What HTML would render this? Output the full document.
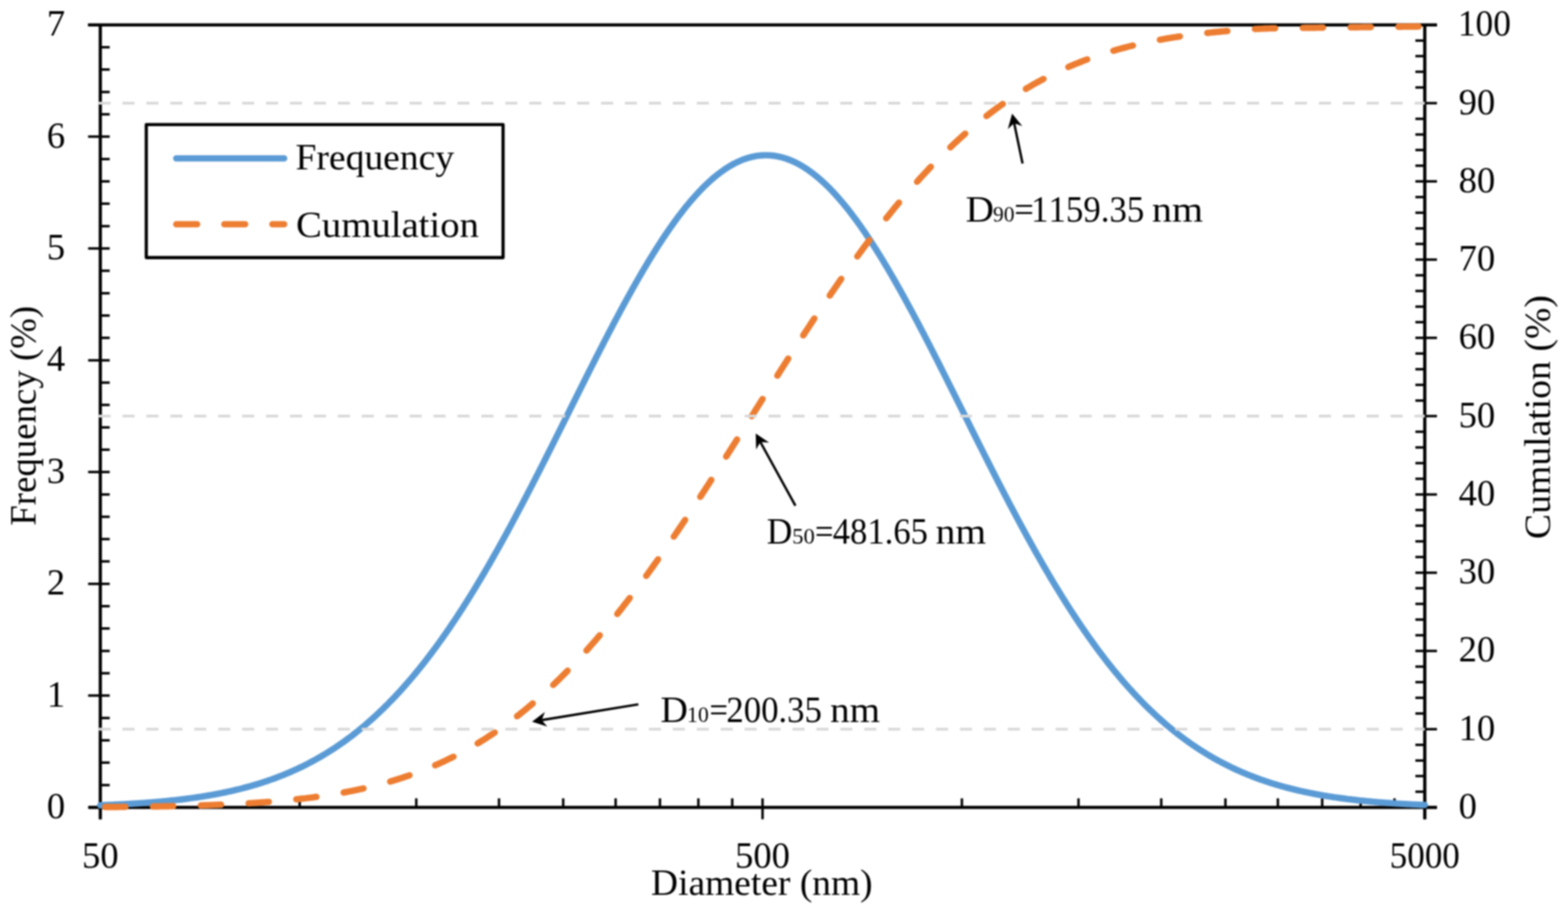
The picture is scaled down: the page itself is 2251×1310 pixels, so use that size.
<!DOCTYPE html>
<html><head><meta charset="utf-8"><title>Particle size distribution</title>
<style>html,body{margin:0;padding:0;background:#fff;} svg{display:block;filter:blur(0.8px);}</style>
</head><body>
<svg width="2251" height="1310" viewBox="0 0 2251 1310">
<rect width="2251" height="1310" fill="#fff"/>
<path d="M144.0,35.7 V1175.5 M2045.4,35.7 V1175.5 M127.0,1158.5 H2062.9 M126.5,35.7 H2062.9" stroke="#000" stroke-width="4.6" fill="none"/>
<path d="M126.5,1158.50 H157.5 M126.5,998.10 H157.5 M126.5,837.70 H157.5 M126.5,677.30 H157.5 M126.5,516.90 H157.5 M126.5,356.50 H157.5 M126.5,196.10 H157.5 M126.5,35.70 H157.5 M144.0,1126.42 H157.5 M144.0,1094.34 H157.5 M144.0,1062.26 H157.5 M144.0,1030.18 H157.5 M144.0,966.02 H157.5 M144.0,933.94 H157.5 M144.0,901.86 H157.5 M144.0,869.78 H157.5 M144.0,805.62 H157.5 M144.0,773.54 H157.5 M144.0,741.46 H157.5 M144.0,709.38 H157.5 M144.0,645.22 H157.5 M144.0,613.14 H157.5 M144.0,581.06 H157.5 M144.0,548.98 H157.5 M144.0,484.82 H157.5 M144.0,452.74 H157.5 M144.0,420.66 H157.5 M144.0,388.58 H157.5 M144.0,324.42 H157.5 M144.0,292.34 H157.5 M144.0,260.26 H157.5 M144.0,228.18 H157.5 M144.0,164.02 H157.5 M144.0,131.94 H157.5 M144.0,99.86 H157.5 M144.0,67.78 H157.5 M2031.9,1158.50 H2062.9 M2031.9,1046.22 H2062.9 M2031.9,933.94 H2062.9 M2031.9,821.66 H2062.9 M2031.9,709.38 H2062.9 M2031.9,597.10 H2062.9 M2031.9,484.82 H2062.9 M2031.9,372.54 H2062.9 M2031.9,260.26 H2062.9 M2031.9,147.98 H2062.9 M2031.9,35.70 H2062.9 M2031.9,1136.04 H2045.4 M2031.9,1113.59 H2045.4 M2031.9,1091.13 H2045.4 M2031.9,1068.68 H2045.4 M2031.9,1023.76 H2045.4 M2031.9,1001.31 H2045.4 M2031.9,978.85 H2045.4 M2031.9,956.40 H2045.4 M2031.9,911.48 H2045.4 M2031.9,889.03 H2045.4 M2031.9,866.57 H2045.4 M2031.9,844.12 H2045.4 M2031.9,799.20 H2045.4 M2031.9,776.75 H2045.4 M2031.9,754.29 H2045.4 M2031.9,731.84 H2045.4 M2031.9,686.92 H2045.4 M2031.9,664.47 H2045.4 M2031.9,642.01 H2045.4 M2031.9,619.56 H2045.4 M2031.9,574.64 H2045.4 M2031.9,552.19 H2045.4 M2031.9,529.73 H2045.4 M2031.9,507.28 H2045.4 M2031.9,462.36 H2045.4 M2031.9,439.91 H2045.4 M2031.9,417.45 H2045.4 M2031.9,395.00 H2045.4 M2031.9,350.08 H2045.4 M2031.9,327.63 H2045.4 M2031.9,305.17 H2045.4 M2031.9,282.72 H2045.4 M2031.9,237.80 H2045.4 M2031.9,215.35 H2045.4 M2031.9,192.89 H2045.4 M2031.9,170.44 H2045.4 M2031.9,125.52 H2045.4 M2031.9,103.07 H2045.4 M2031.9,80.61 H2045.4 M2031.9,58.16 H2045.4 M144.00,1145.5 V1175.5 M1094.70,1145.5 V1175.5 M2045.40,1145.5 V1175.5 M430.19,1145.5 V1158.5 M597.60,1145.5 V1158.5 M716.38,1145.5 V1158.5 M808.51,1145.5 V1158.5 M883.79,1145.5 V1158.5 M947.43,1145.5 V1158.5 M1002.57,1145.5 V1158.5 M1051.20,1145.5 V1158.5 M1380.89,1145.5 V1158.5 M1548.30,1145.5 V1158.5 M1667.08,1145.5 V1158.5 M1759.21,1145.5 V1158.5 M1834.49,1145.5 V1158.5 M1898.13,1145.5 V1158.5 M1953.27,1145.5 V1158.5 M2001.90,1145.5 V1158.5" stroke="#000" stroke-width="3.5" fill="none"/>
<path d="M144.0,1155.39 L146.0,1155.32 L148.0,1155.24 L150.0,1155.16 L152.0,1155.08 L154.0,1155.00 L156.0,1154.91 L158.0,1154.83 L160.0,1154.74 L162.0,1154.65 L164.0,1154.56 L166.0,1154.47 L168.0,1154.37 L170.0,1154.28 L172.0,1154.18 L174.0,1154.08 L176.0,1153.97 L178.0,1153.87 L180.0,1153.76 L182.0,1153.65 L184.0,1153.54 L186.0,1153.42 L188.0,1153.30 L190.0,1153.18 L192.0,1153.06 L194.0,1152.94 L196.0,1152.81 L198.0,1152.68 L200.0,1152.55 L202.0,1152.41 L204.0,1152.28 L206.0,1152.13 L208.0,1151.99 L210.0,1151.84 L212.0,1151.69 L214.0,1151.54 L216.0,1151.39 L218.0,1151.23 L220.0,1151.07 L222.0,1150.90 L224.0,1150.73 L226.0,1150.56 L228.0,1150.39 L230.0,1150.21 L232.0,1150.03 L234.0,1149.84 L236.0,1149.65 L238.0,1149.46 L240.0,1149.26 L242.0,1149.06 L244.0,1148.86 L246.0,1148.65 L248.0,1148.44 L250.0,1148.22 L252.0,1148.00 L254.0,1147.77 L256.0,1147.55 L258.0,1147.31 L260.0,1147.08 L262.0,1146.83 L264.0,1146.59 L266.0,1146.34 L268.0,1146.08 L270.0,1145.82 L272.0,1145.55 L274.0,1145.28 L276.0,1145.01 L278.0,1144.73 L280.0,1144.44 L282.0,1144.15 L284.0,1143.86 L286.0,1143.55 L288.0,1143.25 L290.0,1142.94 L292.0,1142.62 L294.0,1142.29 L296.0,1141.96 L298.0,1141.63 L300.0,1141.29 L302.0,1140.94 L304.0,1140.59 L306.0,1140.23 L308.0,1139.86 L310.0,1139.49 L312.0,1139.11 L314.0,1138.73 L316.0,1138.34 L318.0,1137.94 L320.0,1137.53 L322.0,1137.12 L324.0,1136.70 L326.0,1136.28 L328.0,1135.84 L330.0,1135.40 L332.0,1134.95 L334.0,1134.50 L336.0,1134.03 L338.0,1133.56 L340.0,1133.08 L342.0,1132.60 L344.0,1132.10 L346.0,1131.60 L348.0,1131.09 L350.0,1130.57 L352.0,1130.04 L354.0,1129.51 L356.0,1128.96 L358.0,1128.41 L360.0,1127.85 L362.0,1127.28 L364.0,1126.69 L366.0,1126.11 L368.0,1125.51 L370.0,1124.90 L372.0,1124.28 L374.0,1123.65 L376.0,1123.02 L378.0,1122.37 L380.0,1121.71 L382.0,1121.05 L384.0,1120.37 L386.0,1119.68 L388.0,1118.98 L390.0,1118.28 L392.0,1117.56 L394.0,1116.83 L396.0,1116.09 L398.0,1115.34 L400.0,1114.57 L402.0,1113.80 L404.0,1113.01 L406.0,1112.22 L408.0,1111.41 L410.0,1110.59 L412.0,1109.76 L414.0,1108.91 L416.0,1108.06 L418.0,1107.19 L420.0,1106.31 L422.0,1105.42 L424.0,1104.51 L426.0,1103.59 L428.0,1102.66 L430.0,1101.72 L432.0,1100.76 L434.0,1099.79 L436.0,1098.81 L438.0,1097.81 L440.0,1096.80 L442.0,1095.77 L444.0,1094.74 L446.0,1093.68 L448.0,1092.62 L450.0,1091.54 L452.0,1090.44 L454.0,1089.33 L456.0,1088.21 L458.0,1087.07 L460.0,1085.92 L462.0,1084.75 L464.0,1083.57 L466.0,1082.37 L468.0,1081.16 L470.0,1079.93 L472.0,1078.68 L474.0,1077.42 L476.0,1076.15 L478.0,1074.85 L480.0,1073.55 L482.0,1072.22 L484.0,1070.88 L486.0,1069.53 L488.0,1068.15 L490.0,1066.76 L492.0,1065.36 L494.0,1063.93 L496.0,1062.49 L498.0,1061.04 L500.0,1059.56 L502.0,1058.07 L504.0,1056.56 L506.0,1055.04 L508.0,1053.49 L510.0,1051.93 L512.0,1050.35 L514.0,1048.75 L516.0,1047.14 L518.0,1045.50 L520.0,1043.85 L522.0,1042.18 L524.0,1040.49 L526.0,1038.78 L528.0,1037.06 L530.0,1035.31 L532.0,1033.55 L534.0,1031.77 L536.0,1029.97 L538.0,1028.15 L540.0,1026.31 L542.0,1024.45 L544.0,1022.57 L546.0,1020.67 L548.0,1018.75 L550.0,1016.82 L552.0,1014.86 L554.0,1012.88 L556.0,1010.89 L558.0,1008.87 L560.0,1006.84 L562.0,1004.78 L564.0,1002.70 L566.0,1000.61 L568.0,998.49 L570.0,996.36 L572.0,994.20 L574.0,992.02 L576.0,989.82 L578.0,987.61 L580.0,985.37 L582.0,983.11 L584.0,980.83 L586.0,978.53 L588.0,976.21 L590.0,973.86 L592.0,971.50 L594.0,969.12 L596.0,966.72 L598.0,964.29 L600.0,961.84 L602.0,959.38 L604.0,956.89 L606.0,954.38 L608.0,951.85 L610.0,949.30 L612.0,946.73 L614.0,944.14 L616.0,941.53 L618.0,938.89 L620.0,936.24 L622.0,933.57 L624.0,930.87 L626.0,928.15 L628.0,925.41 L630.0,922.66 L632.0,919.88 L634.0,917.08 L636.0,914.26 L638.0,911.42 L640.0,908.56 L642.0,905.67 L644.0,902.77 L646.0,899.85 L648.0,896.90 L650.0,893.94 L652.0,890.96 L654.0,887.95 L656.0,884.93 L658.0,881.89 L660.0,878.82 L662.0,875.74 L664.0,872.64 L666.0,869.51 L668.0,866.37 L670.0,863.21 L672.0,860.03 L674.0,856.83 L676.0,853.61 L678.0,850.37 L680.0,847.12 L682.0,843.84 L684.0,840.55 L686.0,837.23 L688.0,833.90 L690.0,830.55 L692.0,827.19 L694.0,823.80 L696.0,820.40 L698.0,816.98 L700.0,813.54 L702.0,810.09 L704.0,806.62 L706.0,803.13 L708.0,799.62 L710.0,796.10 L712.0,792.56 L714.0,789.01 L716.0,785.44 L718.0,781.85 L720.0,778.25 L722.0,774.64 L724.0,771.01 L726.0,767.36 L728.0,763.70 L730.0,760.03 L732.0,756.34 L734.0,752.63 L736.0,748.92 L738.0,745.19 L740.0,741.45 L742.0,737.69 L744.0,733.92 L746.0,730.14 L748.0,726.35 L750.0,722.55 L752.0,718.73 L754.0,714.90 L756.0,711.07 L758.0,707.22 L760.0,703.36 L762.0,699.49 L764.0,695.61 L766.0,691.72 L768.0,687.82 L770.0,683.92 L772.0,680.00 L774.0,676.08 L776.0,672.15 L778.0,668.21 L780.0,664.27 L782.0,660.32 L784.0,656.36 L786.0,652.39 L788.0,648.42 L790.0,644.45 L792.0,640.46 L794.0,636.48 L796.0,632.49 L798.0,628.49 L800.0,624.50 L802.0,620.50 L804.0,616.49 L806.0,612.49 L808.0,608.48 L810.0,604.47 L812.0,600.46 L814.0,596.44 L816.0,592.43 L818.0,588.42 L820.0,584.40 L822.0,580.39 L824.0,576.38 L826.0,572.37 L828.0,568.36 L830.0,564.36 L832.0,560.35 L834.0,556.35 L836.0,552.36 L838.0,548.37 L840.0,544.38 L842.0,540.39 L844.0,536.42 L846.0,532.44 L848.0,528.48 L850.0,524.52 L852.0,520.57 L854.0,516.62 L856.0,512.69 L858.0,508.76 L860.0,504.84 L862.0,500.93 L864.0,497.03 L866.0,493.14 L868.0,489.26 L870.0,485.39 L872.0,481.53 L874.0,477.68 L876.0,473.85 L878.0,470.03 L880.0,466.22 L882.0,462.43 L884.0,458.65 L886.0,454.88 L888.0,451.13 L890.0,447.40 L892.0,443.68 L894.0,439.98 L896.0,436.30 L898.0,432.63 L900.0,428.98 L902.0,425.35 L904.0,421.74 L906.0,418.15 L908.0,414.57 L910.0,411.02 L912.0,407.49 L914.0,403.97 L916.0,400.48 L918.0,397.02 L920.0,393.57 L922.0,390.15 L924.0,386.75 L926.0,383.37 L928.0,380.02 L930.0,376.69 L932.0,373.39 L934.0,370.12 L936.0,366.86 L938.0,363.64 L940.0,360.44 L942.0,357.27 L944.0,354.13 L946.0,351.01 L948.0,347.93 L950.0,344.87 L952.0,341.84 L954.0,338.84 L956.0,335.88 L958.0,332.94 L960.0,330.03 L962.0,327.16 L964.0,324.31 L966.0,321.50 L968.0,318.72 L970.0,315.98 L972.0,313.26 L974.0,310.58 L976.0,307.94 L978.0,305.33 L980.0,302.75 L982.0,300.21 L984.0,297.70 L986.0,295.23 L988.0,292.80 L990.0,290.40 L992.0,288.04 L994.0,285.72 L996.0,283.44 L998.0,281.19 L1000.0,278.98 L1002.0,276.81 L1004.0,274.68 L1006.0,272.59 L1008.0,270.53 L1010.0,268.52 L1012.0,266.55 L1014.0,264.61 L1016.0,262.72 L1018.0,260.87 L1020.0,259.06 L1022.0,257.29 L1024.0,255.56 L1026.0,253.88 L1028.0,252.23 L1030.0,250.63 L1032.0,249.07 L1034.0,247.56 L1036.0,246.09 L1038.0,244.66 L1040.0,243.27 L1042.0,241.93 L1044.0,240.63 L1046.0,239.38 L1048.0,238.17 L1050.0,237.00 L1052.0,235.88 L1054.0,234.81 L1056.0,233.78 L1058.0,232.79 L1060.0,231.85 L1062.0,230.96 L1064.0,230.11 L1066.0,229.31 L1068.0,228.55 L1070.0,227.84 L1072.0,227.17 L1074.0,226.55 L1076.0,225.98 L1078.0,225.45 L1080.0,224.97 L1082.0,224.54 L1084.0,224.15 L1086.0,223.81 L1088.0,223.51 L1090.0,223.27 L1092.0,223.06 L1094.0,222.91 L1096.0,222.80 L1098.0,222.74 L1100.0,222.73 L1102.0,222.76 L1104.0,222.84 L1106.0,222.97 L1108.0,223.14 L1110.0,223.36 L1112.0,223.63 L1114.0,223.94 L1116.0,224.30 L1118.0,224.70 L1120.0,225.16 L1122.0,225.66 L1124.0,226.20 L1126.0,226.79 L1128.0,227.43 L1130.0,228.12 L1132.0,228.85 L1134.0,229.62 L1136.0,230.44 L1138.0,231.31 L1140.0,232.22 L1142.0,233.18 L1144.0,234.18 L1146.0,235.23 L1148.0,236.33 L1150.0,237.46 L1152.0,238.65 L1154.0,239.87 L1156.0,241.15 L1158.0,242.46 L1160.0,243.82 L1162.0,245.22 L1164.0,246.67 L1166.0,248.16 L1168.0,249.69 L1170.0,251.27 L1172.0,252.89 L1174.0,254.55 L1176.0,256.25 L1178.0,257.99 L1180.0,259.78 L1182.0,261.60 L1184.0,263.47 L1186.0,265.38 L1188.0,267.33 L1190.0,269.32 L1192.0,271.35 L1194.0,273.42 L1196.0,275.53 L1198.0,277.67 L1200.0,279.86 L1202.0,282.08 L1204.0,284.35 L1206.0,286.65 L1208.0,288.98 L1210.0,291.36 L1212.0,293.77 L1214.0,296.22 L1216.0,298.70 L1218.0,301.22 L1220.0,303.78 L1222.0,306.37 L1224.0,308.99 L1226.0,311.65 L1228.0,314.34 L1230.0,317.07 L1232.0,319.83 L1234.0,322.62 L1236.0,325.45 L1238.0,328.30 L1240.0,331.19 L1242.0,334.11 L1244.0,337.06 L1246.0,340.04 L1248.0,343.05 L1250.0,346.09 L1252.0,349.16 L1254.0,352.26 L1256.0,355.38 L1258.0,358.54 L1260.0,361.72 L1262.0,364.93 L1264.0,368.16 L1266.0,371.42 L1268.0,374.71 L1270.0,378.02 L1272.0,381.36 L1274.0,384.72 L1276.0,388.11 L1278.0,391.51 L1280.0,394.95 L1282.0,398.40 L1284.0,401.88 L1286.0,405.38 L1288.0,408.90 L1290.0,412.44 L1292.0,416.00 L1294.0,419.58 L1296.0,423.18 L1298.0,426.80 L1300.0,430.44 L1302.0,434.09 L1304.0,437.77 L1306.0,441.46 L1308.0,445.17 L1310.0,448.89 L1312.0,452.63 L1314.0,456.39 L1316.0,460.16 L1318.0,463.94 L1320.0,467.74 L1322.0,471.56 L1324.0,475.38 L1326.0,479.22 L1328.0,483.07 L1330.0,486.93 L1332.0,490.81 L1334.0,494.69 L1336.0,498.59 L1338.0,502.49 L1340.0,506.40 L1342.0,510.33 L1344.0,514.26 L1346.0,518.20 L1348.0,522.15 L1350.0,526.10 L1352.0,530.06 L1354.0,534.03 L1356.0,538.01 L1358.0,541.99 L1360.0,545.97 L1362.0,549.96 L1364.0,553.96 L1366.0,557.95 L1368.0,561.95 L1370.0,565.96 L1372.0,569.96 L1374.0,573.97 L1376.0,577.98 L1378.0,582.00 L1380.0,586.01 L1382.0,590.02 L1384.0,594.03 L1386.0,598.05 L1388.0,602.06 L1390.0,606.07 L1392.0,610.08 L1394.0,614.09 L1396.0,618.09 L1398.0,622.10 L1400.0,626.10 L1402.0,630.09 L1404.0,634.09 L1406.0,638.07 L1408.0,642.06 L1410.0,646.04 L1412.0,650.01 L1414.0,653.98 L1416.0,657.94 L1418.0,661.90 L1420.0,665.85 L1422.0,669.79 L1424.0,673.72 L1426.0,677.65 L1428.0,681.57 L1430.0,685.48 L1432.0,689.38 L1434.0,693.28 L1436.0,697.16 L1438.0,701.04 L1440.0,704.90 L1442.0,708.76 L1444.0,712.60 L1446.0,716.44 L1448.0,720.26 L1450.0,724.07 L1452.0,727.87 L1454.0,731.66 L1456.0,735.43 L1458.0,739.19 L1460.0,742.95 L1462.0,746.68 L1464.0,750.41 L1466.0,754.12 L1468.0,757.81 L1470.0,761.50 L1472.0,765.17 L1474.0,768.82 L1476.0,772.46 L1478.0,776.09 L1480.0,779.70 L1482.0,783.29 L1484.0,786.87 L1486.0,790.43 L1488.0,793.98 L1490.0,797.51 L1492.0,801.03 L1494.0,804.52 L1496.0,808.01 L1498.0,811.47 L1500.0,814.92 L1502.0,818.35 L1504.0,821.76 L1506.0,825.16 L1508.0,828.54 L1510.0,831.89 L1512.0,835.24 L1514.0,838.56 L1516.0,841.87 L1518.0,845.15 L1520.0,848.42 L1522.0,851.67 L1524.0,854.90 L1526.0,858.11 L1528.0,861.30 L1530.0,864.48 L1532.0,867.63 L1534.0,870.77 L1536.0,873.88 L1538.0,876.98 L1540.0,880.05 L1542.0,883.11 L1544.0,886.14 L1546.0,889.16 L1548.0,892.15 L1550.0,895.13 L1552.0,898.08 L1554.0,901.02 L1556.0,903.93 L1558.0,906.83 L1560.0,909.70 L1562.0,912.56 L1564.0,915.39 L1566.0,918.20 L1568.0,920.99 L1570.0,923.76 L1572.0,926.51 L1574.0,929.24 L1576.0,931.95 L1578.0,934.64 L1580.0,937.30 L1582.0,939.95 L1584.0,942.58 L1586.0,945.18 L1588.0,947.76 L1590.0,950.33 L1592.0,952.87 L1594.0,955.39 L1596.0,957.89 L1598.0,960.37 L1600.0,962.83 L1602.0,965.26 L1604.0,967.68 L1606.0,970.07 L1608.0,972.45 L1610.0,974.80 L1612.0,977.14 L1614.0,979.45 L1616.0,981.74 L1618.0,984.01 L1620.0,986.27 L1622.0,988.50 L1624.0,990.71 L1626.0,992.89 L1628.0,995.06 L1630.0,997.21 L1632.0,999.34 L1634.0,1001.45 L1636.0,1003.54 L1638.0,1005.61 L1640.0,1007.65 L1642.0,1009.68 L1644.0,1011.69 L1646.0,1013.68 L1648.0,1015.65 L1650.0,1017.59 L1652.0,1019.52 L1654.0,1021.43 L1656.0,1023.32 L1658.0,1025.19 L1660.0,1027.04 L1662.0,1028.88 L1664.0,1030.69 L1666.0,1032.48 L1668.0,1034.26 L1670.0,1036.01 L1672.0,1037.75 L1674.0,1039.47 L1676.0,1041.17 L1678.0,1042.85 L1680.0,1044.51 L1682.0,1046.16 L1684.0,1047.78 L1686.0,1049.39 L1688.0,1050.98 L1690.0,1052.56 L1692.0,1054.11 L1694.0,1055.65 L1696.0,1057.17 L1698.0,1058.67 L1700.0,1060.15 L1702.0,1061.62 L1704.0,1063.07 L1706.0,1064.51 L1708.0,1065.92 L1710.0,1067.32 L1712.0,1068.70 L1714.0,1070.07 L1716.0,1071.42 L1718.0,1072.75 L1720.0,1074.07 L1722.0,1075.37 L1724.0,1076.66 L1726.0,1077.93 L1728.0,1079.18 L1730.0,1080.42 L1732.0,1081.64 L1734.0,1082.85 L1736.0,1084.04 L1738.0,1085.22 L1740.0,1086.38 L1742.0,1087.53 L1744.0,1088.66 L1746.0,1089.78 L1748.0,1090.88 L1750.0,1091.97 L1752.0,1093.05 L1754.0,1094.11 L1756.0,1095.15 L1758.0,1096.19 L1760.0,1097.20 L1762.0,1098.21 L1764.0,1099.20 L1766.0,1100.18 L1768.0,1101.14 L1770.0,1102.10 L1772.0,1103.03 L1774.0,1103.96 L1776.0,1104.87 L1778.0,1105.77 L1780.0,1106.66 L1782.0,1107.54 L1784.0,1108.40 L1786.0,1109.25 L1788.0,1110.09 L1790.0,1110.92 L1792.0,1111.73 L1794.0,1112.54 L1796.0,1113.33 L1798.0,1114.11 L1800.0,1114.88 L1802.0,1115.64 L1804.0,1116.38 L1806.0,1117.12 L1808.0,1117.85 L1810.0,1118.56 L1812.0,1119.26 L1814.0,1119.96 L1816.0,1120.64 L1818.0,1121.31 L1820.0,1121.98 L1822.0,1122.63 L1824.0,1123.27 L1826.0,1123.91 L1828.0,1124.53 L1830.0,1125.14 L1832.0,1125.75 L1834.0,1126.34 L1836.0,1126.93 L1838.0,1127.50 L1840.0,1128.07 L1842.0,1128.63 L1844.0,1129.18 L1846.0,1129.72 L1848.0,1130.26 L1850.0,1130.78 L1852.0,1131.30 L1854.0,1131.80 L1856.0,1132.30 L1858.0,1132.79 L1860.0,1133.28 L1862.0,1133.75 L1864.0,1134.22 L1866.0,1134.68 L1868.0,1135.13 L1870.0,1135.58 L1872.0,1136.02 L1874.0,1136.45 L1876.0,1136.87 L1878.0,1137.29 L1880.0,1137.70 L1882.0,1138.10 L1884.0,1138.49 L1886.0,1138.88 L1888.0,1139.26 L1890.0,1139.64 L1892.0,1140.01 L1894.0,1140.37 L1896.0,1140.73 L1898.0,1141.08 L1900.0,1141.43 L1902.0,1141.76 L1904.0,1142.10 L1906.0,1142.42 L1908.0,1142.75 L1910.0,1143.06 L1912.0,1143.37 L1914.0,1143.68 L1916.0,1143.97 L1918.0,1144.27 L1920.0,1144.56 L1922.0,1144.84 L1924.0,1145.12 L1926.0,1145.39 L1928.0,1145.66 L1930.0,1145.92 L1932.0,1146.18 L1934.0,1146.44 L1936.0,1146.69 L1938.0,1146.93 L1940.0,1147.17 L1942.0,1147.41 L1944.0,1147.64 L1946.0,1147.87 L1948.0,1148.09 L1950.0,1148.31 L1952.0,1148.52 L1954.0,1148.73 L1956.0,1148.94 L1958.0,1149.14 L1960.0,1149.34 L1962.0,1149.54 L1964.0,1149.73 L1966.0,1149.91 L1968.0,1150.10 L1970.0,1150.28 L1972.0,1150.46 L1974.0,1150.63 L1976.0,1150.80 L1978.0,1150.97 L1980.0,1151.13 L1982.0,1151.29 L1984.0,1151.45 L1986.0,1151.60 L1988.0,1151.76 L1990.0,1151.90 L1992.0,1152.05 L1994.0,1152.19 L1996.0,1152.33 L1998.0,1152.47 L2000.0,1152.60 L2002.0,1152.73 L2004.0,1152.86 L2006.0,1152.99 L2008.0,1153.11 L2010.0,1153.23 L2012.0,1153.35 L2014.0,1153.47 L2016.0,1153.58 L2018.0,1153.69 L2020.0,1153.80 L2022.0,1153.91 L2024.0,1154.01 L2026.0,1154.12 L2028.0,1154.22 L2030.0,1154.32 L2032.0,1154.41 L2034.0,1154.51 L2036.0,1154.60 L2038.0,1154.69 L2040.0,1154.78 L2042.0,1154.86 L2045.4,1154.95" fill="none" stroke="#5B9BD5" stroke-width="9.2" stroke-linejoin="round" stroke-linecap="round"/>
<path d="M144.0,1157.98 L146.0,1157.96 L148.0,1157.95 L150.0,1157.94 L152.0,1157.92 L154.0,1157.91 L156.0,1157.89 L158.0,1157.88 L160.0,1157.86 L162.0,1157.84 L164.0,1157.83 L166.0,1157.81 L168.0,1157.79 L170.0,1157.78 L172.0,1157.76 L174.0,1157.74 L176.0,1157.72 L178.0,1157.70 L180.0,1157.68 L182.0,1157.66 L184.0,1157.64 L186.0,1157.62 L188.0,1157.60 L190.0,1157.58 L192.0,1157.55 L194.0,1157.53 L196.0,1157.51 L198.0,1157.48 L200.0,1157.46 L202.0,1157.43 L204.0,1157.41 L206.0,1157.38 L208.0,1157.35 L210.0,1157.33 L212.0,1157.30 L214.0,1157.27 L216.0,1157.24 L218.0,1157.21 L220.0,1157.18 L222.0,1157.15 L224.0,1157.11 L226.0,1157.08 L228.0,1157.05 L230.0,1157.01 L232.0,1156.98 L234.0,1156.94 L236.0,1156.91 L238.0,1156.87 L240.0,1156.83 L242.0,1156.79 L244.0,1156.75 L246.0,1156.71 L248.0,1156.67 L250.0,1156.63 L252.0,1156.59 L254.0,1156.54 L256.0,1156.50 L258.0,1156.45 L260.0,1156.40 L262.0,1156.36 L264.0,1156.31 L266.0,1156.26 L268.0,1156.21 L270.0,1156.15 L272.0,1156.10 L274.0,1156.05 L276.0,1155.99 L278.0,1155.94 L280.0,1155.88 L282.0,1155.82 L284.0,1155.76 L286.0,1155.70 L288.0,1155.64 L290.0,1155.57 L292.0,1155.51 L294.0,1155.44 L296.0,1155.38 L298.0,1155.31 L300.0,1155.24 L302.0,1155.17 L304.0,1155.09 L306.0,1155.02 L308.0,1154.94 L310.0,1154.87 L312.0,1154.79 L314.0,1154.71 L316.0,1154.63 L318.0,1154.54 L320.0,1154.46 L322.0,1154.37 L324.0,1154.28 L326.0,1154.19 L328.0,1154.10 L330.0,1154.01 L332.0,1153.91 L334.0,1153.82 L336.0,1153.72 L338.0,1153.62 L340.0,1153.51 L342.0,1153.41 L344.0,1153.30 L346.0,1153.20 L348.0,1153.09 L350.0,1152.97 L352.0,1152.86 L354.0,1152.74 L356.0,1152.62 L358.0,1152.50 L360.0,1152.38 L362.0,1152.25 L364.0,1152.13 L366.0,1152.00 L368.0,1151.87 L370.0,1151.73 L372.0,1151.59 L374.0,1151.45 L376.0,1151.31 L378.0,1151.17 L380.0,1151.02 L382.0,1150.87 L384.0,1150.72 L386.0,1150.56 L388.0,1150.41 L390.0,1150.25 L392.0,1150.08 L394.0,1149.92 L396.0,1149.75 L398.0,1149.58 L400.0,1149.40 L402.0,1149.22 L404.0,1149.04 L406.0,1148.86 L408.0,1148.67 L410.0,1148.48 L412.0,1148.29 L414.0,1148.09 L416.0,1147.89 L418.0,1147.69 L420.0,1147.48 L422.0,1147.27 L424.0,1147.06 L426.0,1146.84 L428.0,1146.62 L430.0,1146.40 L432.0,1146.17 L434.0,1145.94 L436.0,1145.70 L438.0,1145.46 L440.0,1145.22 L442.0,1144.97 L444.0,1144.72 L446.0,1144.47 L448.0,1144.21 L450.0,1143.94 L452.0,1143.68 L454.0,1143.40 L456.0,1143.13 L458.0,1142.85 L460.0,1142.56 L462.0,1142.27 L464.0,1141.98 L466.0,1141.68 L468.0,1141.38 L470.0,1141.07 L472.0,1140.76 L474.0,1140.44 L476.0,1140.12 L478.0,1139.79 L480.0,1139.46 L482.0,1139.12 L484.0,1138.78 L486.0,1138.43 L488.0,1138.08 L490.0,1137.72 L492.0,1137.36 L494.0,1136.99 L496.0,1136.62 L498.0,1136.24 L500.0,1135.85 L502.0,1135.46 L504.0,1135.07 L506.0,1134.67 L508.0,1134.26 L510.0,1133.84 L512.0,1133.42 L514.0,1133.00 L516.0,1132.57 L518.0,1132.13 L520.0,1131.69 L522.0,1131.24 L524.0,1130.78 L526.0,1130.32 L528.0,1129.85 L530.0,1129.37 L532.0,1128.89 L534.0,1128.40 L536.0,1127.90 L538.0,1127.40 L540.0,1126.89 L542.0,1126.37 L544.0,1125.85 L546.0,1125.32 L548.0,1124.78 L550.0,1124.24 L552.0,1123.69 L554.0,1123.13 L556.0,1122.56 L558.0,1121.98 L560.0,1121.40 L562.0,1120.81 L564.0,1120.22 L566.0,1119.61 L568.0,1119.00 L570.0,1118.38 L572.0,1117.75 L574.0,1117.11 L576.0,1116.47 L578.0,1115.81 L580.0,1115.15 L582.0,1114.48 L584.0,1113.80 L586.0,1113.12 L588.0,1112.42 L590.0,1111.72 L592.0,1111.01 L594.0,1110.28 L596.0,1109.55 L598.0,1108.82 L600.0,1108.07 L602.0,1107.31 L604.0,1106.55 L606.0,1105.77 L608.0,1104.99 L610.0,1104.19 L612.0,1103.39 L614.0,1102.58 L616.0,1101.75 L618.0,1100.92 L620.0,1100.08 L622.0,1099.23 L624.0,1098.37 L626.0,1097.50 L628.0,1096.62 L630.0,1095.73 L632.0,1094.83 L634.0,1093.92 L636.0,1092.99 L638.0,1092.06 L640.0,1091.12 L642.0,1090.17 L644.0,1089.21 L646.0,1088.23 L648.0,1087.25 L650.0,1086.25 L652.0,1085.25 L654.0,1084.23 L656.0,1083.21 L658.0,1082.17 L660.0,1081.12 L662.0,1080.06 L664.0,1078.99 L666.0,1077.90 L668.0,1076.81 L670.0,1075.71 L672.0,1074.59 L674.0,1073.46 L676.0,1072.32 L678.0,1071.17 L680.0,1070.01 L682.0,1068.83 L684.0,1067.65 L686.0,1066.45 L688.0,1065.24 L690.0,1064.02 L692.0,1062.78 L694.0,1061.54 L696.0,1060.28 L698.0,1059.01 L700.0,1057.73 L702.0,1056.44 L704.0,1055.13 L706.0,1053.81 L708.0,1052.48 L710.0,1051.13 L712.0,1049.78 L714.0,1048.41 L716.0,1047.03 L718.0,1045.63 L720.0,1044.23 L722.0,1042.81 L724.0,1041.38 L726.0,1039.93 L728.0,1038.47 L730.0,1037.00 L732.0,1035.52 L734.0,1034.02 L736.0,1032.51 L738.0,1030.99 L740.0,1029.45 L742.0,1027.91 L744.0,1026.34 L746.0,1024.77 L748.0,1023.18 L750.0,1021.58 L752.0,1019.96 L754.0,1018.34 L756.0,1016.69 L758.0,1015.04 L760.0,1013.37 L762.0,1011.69 L764.0,1009.99 L766.0,1008.29 L768.0,1006.56 L770.0,1004.83 L772.0,1003.08 L774.0,1001.32 L776.0,999.54 L778.0,997.75 L780.0,995.95 L782.0,994.13 L784.0,992.30 L786.0,990.46 L788.0,988.60 L790.0,986.73 L792.0,984.84 L794.0,982.95 L796.0,981.03 L798.0,979.11 L800.0,977.17 L802.0,975.22 L804.0,973.25 L806.0,971.27 L808.0,969.28 L810.0,967.27 L812.0,965.25 L814.0,963.22 L816.0,961.17 L818.0,959.11 L820.0,957.03 L822.0,954.94 L824.0,952.84 L826.0,950.72 L828.0,948.60 L830.0,946.45 L832.0,944.30 L834.0,942.13 L836.0,939.95 L838.0,937.75 L840.0,935.54 L842.0,933.32 L844.0,931.08 L846.0,928.83 L848.0,926.57 L850.0,924.30 L852.0,922.01 L854.0,919.71 L856.0,917.39 L858.0,915.06 L860.0,912.72 L862.0,910.37 L864.0,908.00 L866.0,905.63 L868.0,903.23 L870.0,900.83 L872.0,898.41 L874.0,895.98 L876.0,893.54 L878.0,891.09 L880.0,888.62 L882.0,886.14 L884.0,883.65 L886.0,881.14 L888.0,878.63 L890.0,876.10 L892.0,873.56 L894.0,871.01 L896.0,868.44 L898.0,865.87 L900.0,863.28 L902.0,860.68 L904.0,858.07 L906.0,855.45 L908.0,852.82 L910.0,850.17 L912.0,847.52 L914.0,844.85 L916.0,842.17 L918.0,839.48 L920.0,836.78 L922.0,834.07 L924.0,831.35 L926.0,828.62 L928.0,825.87 L930.0,823.12 L932.0,820.36 L934.0,817.58 L936.0,814.80 L938.0,812.00 L940.0,809.20 L942.0,806.39 L944.0,803.56 L946.0,800.73 L948.0,797.89 L950.0,795.04 L952.0,792.18 L954.0,789.31 L956.0,786.43 L958.0,783.54 L960.0,780.64 L962.0,777.74 L964.0,774.82 L966.0,771.90 L968.0,768.97 L970.0,766.03 L972.0,763.08 L974.0,760.13 L976.0,757.17 L978.0,754.20 L980.0,751.22 L982.0,748.23 L984.0,745.24 L986.0,742.24 L988.0,739.23 L990.0,736.22 L992.0,733.20 L994.0,730.17 L996.0,727.14 L998.0,724.10 L1000.0,721.05 L1002.0,718.00 L1004.0,714.94 L1006.0,711.88 L1008.0,708.81 L1010.0,705.74 L1012.0,702.66 L1014.0,699.57 L1016.0,696.48 L1018.0,693.39 L1020.0,690.29 L1022.0,687.18 L1024.0,684.07 L1026.0,680.96 L1028.0,677.84 L1030.0,674.72 L1032.0,671.59 L1034.0,668.46 L1036.0,665.33 L1038.0,662.20 L1040.0,659.06 L1042.0,655.91 L1044.0,652.77 L1046.0,649.62 L1048.0,646.47 L1050.0,643.32 L1052.0,640.16 L1054.0,637.00 L1056.0,633.84 L1058.0,630.68 L1060.0,627.52 L1062.0,624.36 L1064.0,621.19 L1066.0,618.02 L1068.0,614.85 L1070.0,611.68 L1072.0,608.52 L1074.0,605.34 L1076.0,602.17 L1078.0,599.00 L1080.0,595.83 L1082.0,592.66 L1084.0,589.49 L1086.0,586.32 L1088.0,583.15 L1090.0,579.98 L1092.0,576.81 L1094.0,573.64 L1096.0,570.48 L1098.0,567.31 L1100.0,564.15 L1102.0,560.99 L1104.0,557.83 L1106.0,554.67 L1108.0,551.51 L1110.0,548.36 L1112.0,545.21 L1114.0,542.06 L1116.0,538.91 L1118.0,535.77 L1120.0,532.63 L1122.0,529.49 L1124.0,526.36 L1126.0,523.23 L1128.0,520.11 L1130.0,516.98 L1132.0,513.87 L1134.0,510.75 L1136.0,507.64 L1138.0,504.54 L1140.0,501.43 L1142.0,498.34 L1144.0,495.25 L1146.0,492.16 L1148.0,489.08 L1150.0,486.00 L1152.0,482.93 L1154.0,479.87 L1156.0,476.81 L1158.0,473.76 L1160.0,470.71 L1162.0,467.67 L1164.0,464.63 L1166.0,461.61 L1168.0,458.58 L1170.0,455.57 L1172.0,452.56 L1174.0,449.56 L1176.0,446.57 L1178.0,443.58 L1180.0,440.60 L1182.0,437.63 L1184.0,434.66 L1186.0,431.71 L1188.0,428.76 L1190.0,425.82 L1192.0,422.89 L1194.0,419.96 L1196.0,417.05 L1198.0,414.14 L1200.0,411.24 L1202.0,408.35 L1204.0,405.47 L1206.0,402.60 L1208.0,399.73 L1210.0,396.88 L1212.0,394.04 L1214.0,391.20 L1216.0,388.38 L1218.0,385.56 L1220.0,382.76 L1222.0,379.96 L1224.0,377.17 L1226.0,374.40 L1228.0,371.63 L1230.0,368.88 L1232.0,366.13 L1234.0,363.40 L1236.0,360.67 L1238.0,357.96 L1240.0,355.26 L1242.0,352.57 L1244.0,349.89 L1246.0,347.22 L1248.0,344.56 L1250.0,341.91 L1252.0,339.28 L1254.0,336.65 L1256.0,334.04 L1258.0,331.44 L1260.0,328.85 L1262.0,326.27 L1264.0,323.70 L1266.0,321.15 L1268.0,318.61 L1270.0,316.08 L1272.0,313.56 L1274.0,311.05 L1276.0,308.56 L1278.0,306.08 L1280.0,303.61 L1282.0,301.15 L1284.0,298.70 L1286.0,296.27 L1288.0,293.85 L1290.0,291.45 L1292.0,289.05 L1294.0,286.67 L1296.0,284.30 L1298.0,281.95 L1300.0,279.60 L1302.0,277.27 L1304.0,274.96 L1306.0,272.65 L1308.0,270.36 L1310.0,268.08 L1312.0,265.82 L1314.0,263.57 L1316.0,261.33 L1318.0,259.10 L1320.0,256.89 L1322.0,254.69 L1324.0,252.51 L1326.0,250.33 L1328.0,248.18 L1330.0,246.03 L1332.0,243.90 L1334.0,241.78 L1336.0,239.68 L1338.0,237.59 L1340.0,235.51 L1342.0,233.44 L1344.0,231.39 L1346.0,229.36 L1348.0,227.33 L1350.0,225.32 L1352.0,223.33 L1354.0,221.34 L1356.0,219.38 L1358.0,217.42 L1360.0,215.48 L1362.0,213.55 L1364.0,211.64 L1366.0,209.73 L1368.0,207.85 L1370.0,205.97 L1372.0,204.11 L1374.0,202.27 L1376.0,200.43 L1378.0,198.61 L1380.0,196.81 L1382.0,195.02 L1384.0,193.24 L1386.0,191.47 L1388.0,189.72 L1390.0,187.98 L1392.0,186.26 L1394.0,184.55 L1396.0,182.85 L1398.0,181.16 L1400.0,179.49 L1402.0,177.84 L1404.0,176.19 L1406.0,174.56 L1408.0,172.94 L1410.0,171.34 L1412.0,169.75 L1414.0,168.17 L1416.0,166.61 L1418.0,165.05 L1420.0,163.52 L1422.0,161.99 L1424.0,160.48 L1426.0,158.98 L1428.0,157.49 L1430.0,156.02 L1432.0,154.56 L1434.0,153.11 L1436.0,151.68 L1438.0,150.26 L1440.0,148.85 L1442.0,147.45 L1444.0,146.07 L1446.0,144.69 L1448.0,143.34 L1450.0,141.99 L1452.0,140.66 L1454.0,139.33 L1456.0,138.03 L1458.0,136.73 L1460.0,135.44 L1462.0,134.17 L1464.0,132.91 L1466.0,131.66 L1468.0,130.43 L1470.0,129.20 L1472.0,127.99 L1474.0,126.79 L1476.0,125.60 L1478.0,124.43 L1480.0,123.26 L1482.0,122.11 L1484.0,120.97 L1486.0,119.84 L1488.0,118.72 L1490.0,117.61 L1492.0,116.51 L1494.0,115.43 L1496.0,114.36 L1498.0,113.29 L1500.0,112.24 L1502.0,111.20 L1504.0,110.17 L1506.0,109.15 L1508.0,108.15 L1510.0,107.15 L1512.0,106.16 L1514.0,105.19 L1516.0,104.22 L1518.0,103.27 L1520.0,102.32 L1522.0,101.39 L1524.0,100.47 L1526.0,99.56 L1528.0,98.65 L1530.0,97.76 L1532.0,96.88 L1534.0,96.00 L1536.0,95.14 L1538.0,94.29 L1540.0,93.44 L1542.0,92.61 L1544.0,91.79 L1546.0,90.97 L1548.0,90.17 L1550.0,89.37 L1552.0,88.59 L1554.0,87.81 L1556.0,87.04 L1558.0,86.28 L1560.0,85.53 L1562.0,84.79 L1564.0,84.06 L1566.0,83.34 L1568.0,82.62 L1570.0,81.92 L1572.0,81.22 L1574.0,80.53 L1576.0,79.85 L1578.0,79.18 L1580.0,78.52 L1582.0,77.86 L1584.0,77.22 L1586.0,76.58 L1588.0,75.95 L1590.0,75.33 L1592.0,74.71 L1594.0,74.11 L1596.0,73.51 L1598.0,72.91 L1600.0,72.33 L1602.0,71.76 L1604.0,71.19 L1606.0,70.63 L1608.0,70.07 L1610.0,69.53 L1612.0,68.99 L1614.0,68.45 L1616.0,67.93 L1618.0,67.41 L1620.0,66.90 L1622.0,66.40 L1624.0,65.90 L1626.0,65.41 L1628.0,64.93 L1630.0,64.45 L1632.0,63.98 L1634.0,63.51 L1636.0,63.06 L1638.0,62.60 L1640.0,62.16 L1642.0,61.72 L1644.0,61.29 L1646.0,60.86 L1648.0,60.44 L1650.0,60.02 L1652.0,59.62 L1654.0,59.21 L1656.0,58.82 L1658.0,58.42 L1660.0,58.04 L1662.0,57.66 L1664.0,57.28 L1666.0,56.91 L1668.0,56.55 L1670.0,56.19 L1672.0,55.84 L1674.0,55.49 L1676.0,55.15 L1678.0,54.81 L1680.0,54.47 L1682.0,54.15 L1684.0,53.82 L1686.0,53.51 L1688.0,53.19 L1690.0,52.88 L1692.0,52.58 L1694.0,52.28 L1696.0,51.99 L1698.0,51.70 L1700.0,51.41 L1702.0,51.13 L1704.0,50.85 L1706.0,50.58 L1708.0,50.31 L1710.0,50.05 L1712.0,49.79 L1714.0,49.53 L1716.0,49.28 L1718.0,49.03 L1720.0,48.79 L1722.0,48.55 L1724.0,48.31 L1726.0,48.08 L1728.0,47.85 L1730.0,47.62 L1732.0,47.40 L1734.0,47.18 L1736.0,46.97 L1738.0,46.76 L1740.0,46.55 L1742.0,46.35 L1744.0,46.15 L1746.0,45.95 L1748.0,45.76 L1750.0,45.56 L1752.0,45.38 L1754.0,45.19 L1756.0,45.01 L1758.0,44.83 L1760.0,44.66 L1762.0,44.49 L1764.0,44.32 L1766.0,44.15 L1768.0,43.99 L1770.0,43.83 L1772.0,43.67 L1774.0,43.51 L1776.0,43.36 L1778.0,43.21 L1780.0,43.06 L1782.0,42.92 L1784.0,42.78 L1786.0,42.64 L1788.0,42.50 L1790.0,42.37 L1792.0,42.24 L1794.0,42.11 L1796.0,41.98 L1798.0,41.86 L1800.0,41.75 L1802.0,41.63 L1804.0,41.52 L1806.0,41.42 L1808.0,41.32 L1810.0,41.22 L1812.0,41.13 L1814.0,41.05 L1816.0,40.97 L1818.0,40.90 L1820.0,40.83 L1822.0,40.77 L1824.0,40.72 L1826.0,40.67 L1828.0,40.62 L1830.0,40.58 L1832.0,40.54 L1834.0,40.50 L1836.0,40.47 L1838.0,40.43 L1840.0,40.40 L1842.0,40.37 L1844.0,40.34 L1846.0,40.31 L1848.0,40.28 L1850.0,40.26 L1852.0,40.23 L1854.0,40.20 L1856.0,40.18 L1858.0,40.15 L1860.0,40.13 L1862.0,40.10 L1864.0,40.08 L1866.0,40.05 L1868.0,40.03 L1870.0,40.00 L1872.0,39.98 L1874.0,39.95 L1876.0,39.93 L1878.0,39.91 L1880.0,39.88 L1882.0,39.86 L1884.0,39.83 L1886.0,39.81 L1888.0,39.78 L1890.0,39.76 L1892.0,39.74 L1894.0,39.71 L1896.0,39.69 L1898.0,39.66 L1900.0,39.64 L1902.0,39.62 L1904.0,39.59 L1906.0,39.57 L1908.0,39.54 L1910.0,39.52 L1912.0,39.50 L1914.0,39.47 L1916.0,39.45 L1918.0,39.42 L1920.0,39.40 L1922.0,39.37 L1924.0,39.35 L1926.0,39.33 L1928.0,39.30 L1930.0,39.28 L1932.0,39.25 L1934.0,39.23 L1936.0,39.21 L1938.0,39.18 L1940.0,39.16 L1942.0,39.13 L1944.0,39.11 L1946.0,39.09 L1948.0,39.06 L1950.0,39.04 L1952.0,39.01 L1954.0,38.99 L1956.0,38.97 L1958.0,38.94 L1960.0,38.92 L1962.0,38.89 L1964.0,38.87 L1966.0,38.85 L1968.0,38.82 L1970.0,38.80 L1972.0,38.77 L1974.0,38.75 L1976.0,38.73 L1978.0,38.70 L1980.0,38.68 L1982.0,38.65 L1984.0,38.63 L1986.0,38.61 L1988.0,38.58 L1990.0,38.56 L1992.0,38.53 L1994.0,38.51 L1996.0,38.49 L1998.0,38.46 L2000.0,38.44 L2002.0,38.41 L2004.0,38.39 L2006.0,38.37 L2008.0,38.34 L2010.0,38.32 L2012.0,38.29 L2014.0,38.27 L2016.0,38.25 L2018.0,38.22 L2020.0,38.20 L2022.0,38.17 L2024.0,38.15 L2026.0,38.13 L2028.0,38.10 L2030.0,38.08 L2032.0,38.05 L2034.0,38.03 L2036.0,38.01 L2038.0,37.98 L2040.0,37.96 L2042.0,37.93 L2044.0,37.91" fill="none" stroke="#ED7D31" stroke-width="9.2" stroke-linejoin="round" stroke-linecap="round" stroke-dasharray="29.0 39.685" stroke-dashoffset="61.685"/>
<line x1="141.45" y1="1046.22" x2="2045.4" y2="1046.22" stroke="#D9D9D9" stroke-width="4" stroke-dasharray="17.4 16.95"/>
<line x1="141.45" y1="597.10" x2="2045.4" y2="597.10" stroke="#D9D9D9" stroke-width="4" stroke-dasharray="17.4 16.95"/>
<line x1="141.45" y1="147.98" x2="2045.4" y2="147.98" stroke="#D9D9D9" stroke-width="4" stroke-dasharray="17.4 16.95"/>
<text x="93.5" y="1174.0" font-size="52.5" text-anchor="end" font-family="Liberation Serif, serif" fill="#000">0</text>
<text x="93.5" y="1013.6" font-size="52.5" text-anchor="end" font-family="Liberation Serif, serif" fill="#000">1</text>
<text x="93.5" y="853.2" font-size="52.5" text-anchor="end" font-family="Liberation Serif, serif" fill="#000">2</text>
<text x="93.5" y="692.8" font-size="52.5" text-anchor="end" font-family="Liberation Serif, serif" fill="#000">3</text>
<text x="93.5" y="532.4" font-size="52.5" text-anchor="end" font-family="Liberation Serif, serif" fill="#000">4</text>
<text x="93.5" y="372.0" font-size="52.5" text-anchor="end" font-family="Liberation Serif, serif" fill="#000">5</text>
<text x="93.5" y="211.6" font-size="52.5" text-anchor="end" font-family="Liberation Serif, serif" fill="#000">6</text>
<text x="93.5" y="51.2" font-size="52.5" text-anchor="end" font-family="Liberation Serif, serif" fill="#000">7</text>
<text x="2094" y="1174.0" font-size="52.5" font-family="Liberation Serif, serif" fill="#000">0</text>
<text x="2094" y="1061.7" font-size="52.5" font-family="Liberation Serif, serif" fill="#000">10</text>
<text x="2094" y="949.4" font-size="52.5" font-family="Liberation Serif, serif" fill="#000">20</text>
<text x="2094" y="837.2" font-size="52.5" font-family="Liberation Serif, serif" fill="#000">30</text>
<text x="2094" y="724.9" font-size="52.5" font-family="Liberation Serif, serif" fill="#000">40</text>
<text x="2094" y="612.6" font-size="52.5" font-family="Liberation Serif, serif" fill="#000">50</text>
<text x="2094" y="500.3" font-size="52.5" font-family="Liberation Serif, serif" fill="#000">60</text>
<text x="2094" y="388.0" font-size="52.5" font-family="Liberation Serif, serif" fill="#000">70</text>
<text x="2094" y="275.8" font-size="52.5" font-family="Liberation Serif, serif" fill="#000">80</text>
<text x="2094" y="163.5" font-size="52.5" font-family="Liberation Serif, serif" fill="#000">90</text>
<text x="2093" y="51.2" font-size="52.5" textLength="76" lengthAdjust="spacingAndGlyphs" font-family="Liberation Serif, serif" fill="#000">100</text>
<text x="144.0" y="1245" font-size="52.5" text-anchor="middle" font-family="Liberation Serif, serif" fill="#000">50</text>
<text x="1094.7" y="1245" font-size="52.5" text-anchor="middle" font-family="Liberation Serif, serif" fill="#000">500</text>
<text x="2045.4" y="1245" font-size="52.5" text-anchor="middle" textLength="100.6" lengthAdjust="spacingAndGlyphs" font-family="Liberation Serif, serif" fill="#000">5000</text>
<text x="1093.7" y="1284" font-size="52.5" text-anchor="middle" textLength="318.2" lengthAdjust="spacingAndGlyphs" font-family="Liberation Serif, serif" fill="#000">Diameter (nm)</text>
<text transform="translate(50.9,596.6) rotate(-90)" font-size="52.5" text-anchor="middle" textLength="315.4" lengthAdjust="spacingAndGlyphs" font-family="Liberation Serif, serif" fill="#000">Frequency (%)</text>
<text transform="translate(2225,598.5) rotate(-90)" font-size="52.5" text-anchor="middle" textLength="349.9" lengthAdjust="spacingAndGlyphs" font-family="Liberation Serif, serif" fill="#000">Cumulation (%)</text>
<rect x="210" y="178.8" width="512.2" height="190.8" fill="#fff" stroke="#000" stroke-width="4.6" stroke-linejoin="round"/>
<line x1="253" y1="227.2" x2="408" y2="227.2" stroke="#5B9BD5" stroke-width="9" stroke-linecap="round"/>
<path d="M253,321.8 H283 M322,321.8 H352 M391,321.8 H408" stroke="#ED7D31" stroke-width="9" stroke-linecap="round"/>
<text x="424.3" y="243" font-size="52.5" textLength="227.6" lengthAdjust="spacingAndGlyphs" font-family="Liberation Serif, serif" fill="#000">Frequency</text>
<text x="425" y="339.6" font-size="52.5" textLength="262.6" lengthAdjust="spacingAndGlyphs" font-family="Liberation Serif, serif" fill="#000">Cumulation</text>
<line x1="1468" y1="234.7" x2="1455.9" y2="176.7" stroke="#000" stroke-width="3.4"/>
<path d="M1453,163 L1467.6,180.9 L1455.9,176.7 L1446.8,185.2 Z" fill="#000"/>
<line x1="1141.9" y1="725.6" x2="1091.6" y2="634.3" stroke="#000" stroke-width="3.4"/>
<path d="M1084.9,622 L1104.1,634.9 L1091.6,634.3 L1085.5,645.1 Z" fill="#000"/>
<line x1="916.4" y1="1010.6" x2="777.6" y2="1033.2" stroke="#000" stroke-width="3.4"/>
<path d="M763.8,1035.4 L782.3,1021.6 L777.6,1033.2 L785.7,1042.6 Z" fill="#000"/>
<text y="317.6" font-size="52.5" font-family="Liberation Serif, serif" fill="#000" style="font-kerning:none"><tspan x="1386.38" textLength="40.68" lengthAdjust="spacingAndGlyphs">D</tspan><tspan x="1425.40" font-size="31.81" textLength="30.98" lengthAdjust="spacingAndGlyphs">90</tspan><tspan x="1455.92" textLength="28.12" lengthAdjust="spacingAndGlyphs">=</tspan><tspan x="1480.31" textLength="162.34" lengthAdjust="spacingAndGlyphs">1159.35</tspan><tspan x="1653.78" textLength="73.31" lengthAdjust="spacingAndGlyphs">nm</tspan></text>
<text y="779.7" font-size="52.5" font-family="Liberation Serif, serif" fill="#000" style="font-kerning:none"><tspan x="1100.64" textLength="36.70" lengthAdjust="spacingAndGlyphs">D</tspan><tspan x="1137.21" font-size="31.81" textLength="32.53" lengthAdjust="spacingAndGlyphs">50</tspan><tspan x="1169.96" textLength="26.54" lengthAdjust="spacingAndGlyphs">=</tspan><tspan x="1195.53" textLength="136.61" lengthAdjust="spacingAndGlyphs">481.65</tspan><tspan x="1343.20" textLength="72.49" lengthAdjust="spacingAndGlyphs">nm</tspan></text>
<text y="1036" font-size="52.5" font-family="Liberation Serif, serif" fill="#000" style="font-kerning:none"><tspan x="948.23" textLength="39.24" lengthAdjust="spacingAndGlyphs">D</tspan><tspan x="986.36" font-size="31.81" textLength="31.12" lengthAdjust="spacingAndGlyphs">10</tspan><tspan x="1018.46" textLength="26.54" lengthAdjust="spacingAndGlyphs">=</tspan><tspan x="1042.81" textLength="137.04" lengthAdjust="spacingAndGlyphs">200.35</tspan><tspan x="1191.71" textLength="71.66" lengthAdjust="spacingAndGlyphs">nm</tspan></text>
</svg>
</body></html>
